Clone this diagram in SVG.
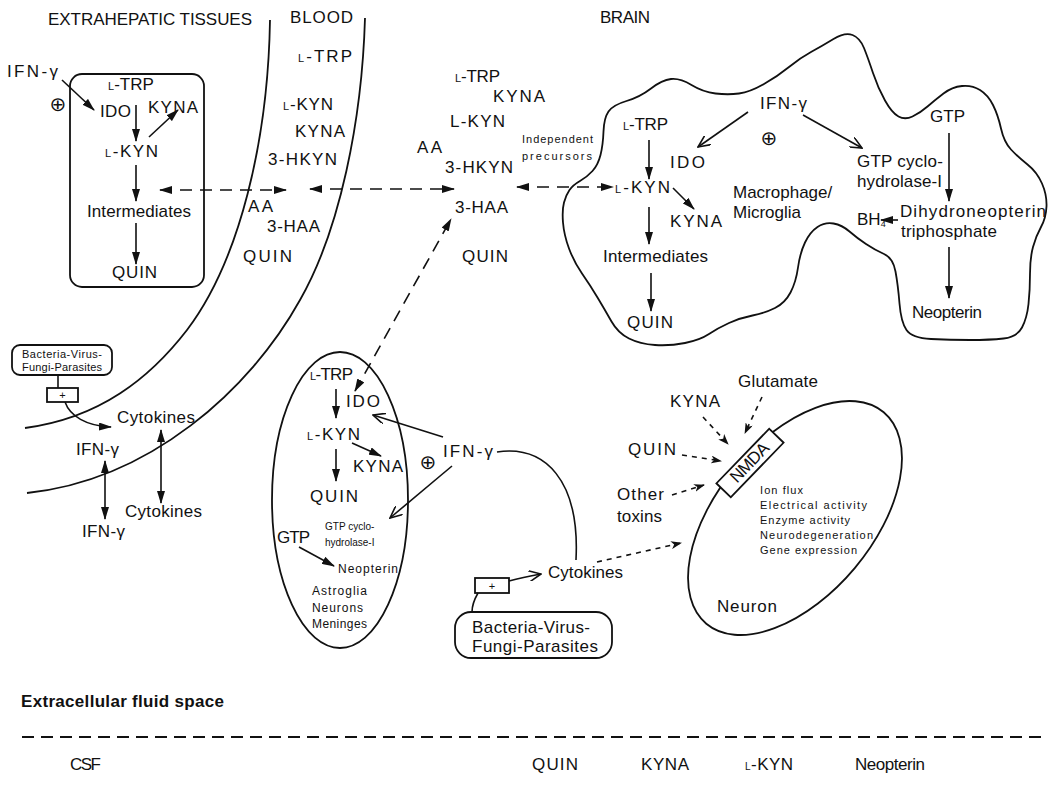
<svg xmlns="http://www.w3.org/2000/svg" width="1051" height="792" viewBox="0 0 1051 792">
<defs>
<style>
text{font-family:"Liberation Sans",Arial,sans-serif;font-size:17px;fill:#111}
.sm{font-size:11px}
.md{font-size:12px}
.xs{font-size:10px}
.b{font-weight:bold}
.sym{font-family:"DejaVu Sans",sans-serif;font-size:20px}
.ln{stroke:#111;stroke-width:1.6;fill:none}
.sh{stroke:#111;stroke-width:1.8;fill:none}
.da{stroke-dasharray:12 8}
.do{stroke-dasharray:5 5}
.fa{marker-end:url(#fa)}
.fa2{marker-start:url(#fa);marker-end:url(#fa)}
.oa{marker-end:url(#oa)}
.sa{marker-end:url(#sa)}
</style>
<marker id="fa" viewBox="0 0 13 8" refX="12" refY="4" markerWidth="13" markerHeight="8" markerUnits="userSpaceOnUse" orient="auto-start-reverse"><path d="M0,0 L13,4 L0,8 z" fill="#111"/></marker>
<marker id="oa" viewBox="0 0 13 11" refX="12" refY="5.5" markerWidth="13" markerHeight="11" markerUnits="userSpaceOnUse" orient="auto"><path d="M0,0 L12,5.5 L0,11" fill="none" stroke="#111" stroke-width="1.6"/></marker>
<marker id="sa" viewBox="0 0 11 8" refX="10" refY="4" markerWidth="11" markerHeight="8" markerUnits="userSpaceOnUse" orient="auto"><path d="M0,0 L11,4 L0,8 L3,4 z" fill="#111"/></marker>
</defs>
<rect width="1051" height="792" fill="#fff"/>

<!-- compartment boundaries -->
<g id="boundaries">
<path class="sh" d="M270,20 C268,140 240,260 187,330 C150,378 100,418 25,428"/>
<path class="sh" d="M365,18 C362,120 340,230 300,300 C250,390 150,480 27,493"/>
</g>

<!-- headers -->
<g id="headers">
<text x="48" y="25" textLength="204" lengthAdjust="spacing">EXTRAHEPATIC TISSUES</text>
<text x="290" y="23" textLength="63" lengthAdjust="spacing">BLOOD</text>
<text x="600" y="23" textLength="50" lengthAdjust="spacing">BRAIN</text>
</g>

<!-- extrahepatic box -->
<g id="extrahepatic">
<rect x="70" y="74" width="134" height="213" rx="12" class="sh"/>
<text x="108" y="90"><tspan font-size="11">L</tspan>-TRP</text>
<text x="100" y="117" textLength="31" lengthAdjust="spacing">IDO</text>
<text x="148" y="113" textLength="50" lengthAdjust="spacing">KYNA</text>
<text x="105" y="157" textLength="53" lengthAdjust="spacing"><tspan font-size="11">L</tspan>-KYN</text>
<text x="87" y="217" textLength="104" lengthAdjust="spacing">Intermediates</text>
<text x="112" y="278" textLength="45" lengthAdjust="spacing">QUIN</text>
</g>
<g id="extra-ifn">
<text x="7" y="77" textLength="51" lengthAdjust="spacing">IFN-γ</text>
<text class="sym" x="58" y="111" text-anchor="middle">⊕</text>
</g>

<!-- blood -->
<g id="blood">
<text x="298" y="62" textLength="54" lengthAdjust="spacing"><tspan font-size="11">L</tspan>-TRP</text>
<text x="283" y="110" textLength="50" lengthAdjust="spacing"><tspan font-size="11">L</tspan>-KYN</text>
<text x="295" y="137" textLength="50" lengthAdjust="spacing">KYNA</text>
<text x="268" y="165" textLength="69" lengthAdjust="spacing">3-HKYN</text>
<text x="248" y="212" textLength="25" lengthAdjust="spacing">AA</text>
<text x="267" y="232" textLength="53" lengthAdjust="spacing">3-HAA</text>
<text x="243" y="262" textLength="49" lengthAdjust="spacing">QUIN</text>
</g>

<!-- brain extracellular -->
<g id="brain-ecf">
<text x="455" y="82" textLength="45" lengthAdjust="spacing"><tspan font-size="11">L</tspan>-TRP</text>
<text x="493" y="102" textLength="52" lengthAdjust="spacing">KYNA</text>
<text x="450" y="127" textLength="55" lengthAdjust="spacing">L-KYN</text>
<text x="417" y="153" textLength="25" lengthAdjust="spacing">AA</text>
<text x="445" y="173" textLength="68" lengthAdjust="spacing">3-HKYN</text>
<text x="455" y="213" textLength="53" lengthAdjust="spacing">3-HAA</text>
<text x="462" y="262" textLength="46" lengthAdjust="spacing">QUIN</text>
<text class="sm" x="522" y="143" textLength="71" lengthAdjust="spacing">Independent</text>
<text class="sm" x="522" y="160" textLength="70" lengthAdjust="spacing">precursors</text>
</g>

<!-- macrophage / microglia -->
<g id="macrophage">
<path class="sh" d="M569.5,190 Q573,185 580,181 Q587,177 592.5,171 Q598,165 600.5,155 Q603,145 603.5,131.5 Q604,118 608.5,111.5 Q613,105 626.5,101 Q640,97 651,88.5 Q662,80 671,79 Q680,78 691.5,85 Q703,92 715.5,93.5 Q728,95 739,93.5 Q750,92 764,84 Q778,76 789,67 Q800,58 811,52 Q822,46 833.5,39 Q845,32 852.5,35 Q860,38 864,48 Q868,58 873,73 Q878,88 885,100.5 Q892,113 898.5,116.5 Q905,120 912.5,116.5 Q920,113 927.5,106.5 Q935,100 943.5,93.5 Q952,87 962,86 Q972,85 980,90 Q988,95 993,105 Q998,115 1001,128.5 Q1004,142 1011,149.5 Q1018,157 1027.5,164.5 Q1037,172 1042,183.5 Q1047,195 1046.5,206.5 Q1046,218 1041,227 Q1036,236 1033,247 Q1030,258 1030,274 Q1030,290 1028.5,304 Q1027,318 1022,327.5 Q1017,337 1003.5,338.5 Q990,340 970,340 Q950,340 931,339 Q912,338 906.5,330 Q901,322 899.5,303.5 Q898,285 895.5,271.5 Q893,258 884,254 Q875,250 866,244 Q857,238 849.5,231.5 Q842,225 833.5,223.5 Q825,222 817.5,227 Q810,232 805,242.5 Q800,253 798,267.5 Q796,282 790.5,292.5 Q785,303 775,308 Q765,313 752.5,315.5 Q740,318 729,323 Q718,328 709,334 Q700,340 685,343 Q670,346 655,345 Q640,344 629,338.5 Q618,333 611.5,321.5 Q605,310 597.5,297.5 Q590,285 582,273.5 Q574,262 569,248.5 Q564,235 563,222.5 Q562,210 564,202.5 Q566,195 569.5,190 Z"/>
<text x="623" y="130" textLength="45" lengthAdjust="spacing"><tspan font-size="11">L</tspan>-TRP</text>
<text x="670" y="168" textLength="35" lengthAdjust="spacing">IDO</text>
<text x="760" y="109" textLength="47" lengthAdjust="spacing">IFN-γ</text>
<text class="sym" x="769" y="145" text-anchor="middle">⊕</text>
<text x="615" y="193" textLength="55" lengthAdjust="spacing"><tspan font-size="11">L</tspan>-KYN</text>
<text x="670" y="227" textLength="52" lengthAdjust="spacing">KYNA</text>
<text x="603" y="262" textLength="105" lengthAdjust="spacing">Intermediates</text>
<text x="627" y="328" textLength="46" lengthAdjust="spacing">QUIN</text>
<text x="733" y="198" font-size="14.5">Macrophage/</text>
<text x="733" y="218" font-size="14.5">Microglia</text>
<text x="930" y="122" textLength="35" lengthAdjust="spacing">GTP</text>
<text x="857" y="167" textLength="86" lengthAdjust="spacing">GTP cyclo-</text>
<text x="857" y="187" textLength="85" lengthAdjust="spacing">hydrolase-I</text>
<text x="900" y="217" textLength="146" lengthAdjust="spacing">Dihydroneopterin</text>
<text x="901" y="237" textLength="96" lengthAdjust="spacing">triphosphate</text>
<text x="857" y="225" font-size="16">BH<tspan font-size="9" dy="2">4</tspan></text>
<text x="912" y="318" textLength="70" lengthAdjust="spacing">Neopterin</text>
</g>

<!-- peripheral infection -->
<g id="infection-periphery">
<rect x="12" y="345" width="100" height="30" rx="8" class="sh"/>
<text class="sm" x="62" y="358" text-anchor="middle" textLength="80" lengthAdjust="spacing">Bacteria-Virus-</text>
<text class="sm" x="62" y="371" text-anchor="middle" textLength="80" lengthAdjust="spacing">Fungi-Parasites</text>
<rect x="47" y="388" width="31" height="14" class="sh" stroke-width="1.5"/>
<text class="sm" x="62.5" y="399" text-anchor="middle">+</text>
</g>
<g id="periph-cytokines">
<text x="117" y="423" textLength="78" lengthAdjust="spacing">Cytokines</text>
<text x="76" y="455" textLength="43" lengthAdjust="spacing">IFN-γ</text>
<text x="82" y="537" textLength="43" lengthAdjust="spacing">IFN-γ</text>
<text x="125" y="517" textLength="77" lengthAdjust="spacing">Cytokines</text>
</g>

<!-- astroglia ellipse -->
<g id="astroglia">
<ellipse cx="340" cy="500" rx="68" ry="148" class="sh"/>
<text x="310" y="380" textLength="43" lengthAdjust="spacing"><tspan font-size="11">L</tspan>-TRP</text>
<text x="346" y="407" textLength="34" lengthAdjust="spacing">IDO</text>
<text x="307" y="440" textLength="53" lengthAdjust="spacing"><tspan font-size="11">L</tspan>-KYN</text>
<text x="353" y="472" textLength="50" lengthAdjust="spacing">KYNA</text>
<text x="310" y="502" textLength="48" lengthAdjust="spacing">QUIN</text>
<text class="xs" x="325" y="530">GTP cyclo-</text>
<text class="xs" x="325" y="546">hydrolase-I</text>
<text x="277" y="543" textLength="33" lengthAdjust="spacing">GTP</text>
<text class="md" x="338" y="573" textLength="60" lengthAdjust="spacing">Neopterin</text>
<text class="md" x="312" y="595" textLength="55" lengthAdjust="spacing">Astroglia</text>
<text class="md" x="312" y="612" textLength="51" lengthAdjust="spacing">Neurons</text>
<text class="md" x="312" y="628" textLength="55" lengthAdjust="spacing">Meninges</text>
</g>
<g id="brain-ifn">
<text x="443" y="457" textLength="50" lengthAdjust="spacing">IFN-γ</text>
<text class="sym" x="428" y="469" text-anchor="middle">⊕</text>
</g>

<!-- brain infection -->
<g id="infection-brain">
<text x="548" y="578" textLength="75" lengthAdjust="spacing">Cytokines</text>
<rect x="475" y="578" width="34" height="15" class="sh" stroke-width="1.5"/>
<text class="sm" x="492" y="590" text-anchor="middle">+</text>
<rect x="455" y="612" width="157" height="46" rx="16" class="sh"/>
<text x="472" y="633" textLength="118" lengthAdjust="spacing">Bacteria-Virus-</text>
<text x="472" y="652" textLength="126" lengthAdjust="spacing">Fungi-Parasites</text>
</g>

<!-- neuron -->
<g id="neuron">
<ellipse cx="795" cy="518" rx="138" ry="78" transform="rotate(-50 795 518)" class="sh"/>
<g transform="translate(750 463) rotate(-46)">
<rect x="-38" y="-10" width="76" height="20" fill="#fff" stroke="#111" stroke-width="1.8"/>
<text x="0" y="5" text-anchor="middle" font-size="14" textLength="48" lengthAdjust="spacing">NMDA</text>
</g>
<text class="sm" x="760" y="494" textLength="43" lengthAdjust="spacing">Ion flux</text>
<text class="sm" x="760" y="509" textLength="107" lengthAdjust="spacing">Electrical activity</text>
<text class="sm" x="760" y="524" textLength="90" lengthAdjust="spacing">Enzyme activity</text>
<text class="sm" x="760" y="539" textLength="113" lengthAdjust="spacing">Neurodegeneration</text>
<text class="sm" x="760" y="554" textLength="97" lengthAdjust="spacing">Gene expression</text>
<text x="717" y="612" textLength="60" lengthAdjust="spacing">Neuron</text>
</g>
<g id="neuro-inputs">
<text x="738" y="387" textLength="80" lengthAdjust="spacing">Glutamate</text>
<text x="670" y="407" textLength="50" lengthAdjust="spacing">KYNA</text>
<text x="628" y="455" textLength="48" lengthAdjust="spacing">QUIN</text>
<text x="617" y="500" textLength="47" lengthAdjust="spacing">Other</text>
<text x="617" y="522" textLength="45" lengthAdjust="spacing">toxins</text>
</g>

<!-- CSF -->
<g id="csf">
<text class="b" x="21" y="707" font-size="16" textLength="203" lengthAdjust="spacing">Extracellular fluid space</text>
<line x1="22" y1="737" x2="1048" y2="737" class="sh" stroke-dasharray="12 7"/>
<text x="70" y="770" font-size="15" textLength="31" lengthAdjust="spacing">CSF</text>
<text x="532" y="770" font-size="15" textLength="46" lengthAdjust="spacing">QUIN</text>
<text x="641" y="770" font-size="15" textLength="48" lengthAdjust="spacing">KYNA</text>
<text x="745" y="770" font-size="15" textLength="48" lengthAdjust="spacing"><tspan font-size="10">L</tspan>-KYN</text>
<text x="855" y="770" font-size="15" textLength="70" lengthAdjust="spacing">Neopterin</text>
</g>

<!-- connectors -->
<g id="connectors">
<line class="ln fa" x1="62" y1="80" x2="94" y2="110"/>
<line class="ln fa" x1="136" y1="105" x2="136" y2="141"/>
<line class="ln fa" x1="149" y1="137" x2="178" y2="110"/>
<line class="ln fa" x1="136" y1="165" x2="136" y2="201"/>
<line class="ln fa" x1="136" y1="223" x2="136" y2="264"/>
<line class="ln da fa2" x1="160" y1="190" x2="286" y2="190"/>
<line class="ln da fa2" x1="310" y1="189" x2="454" y2="189"/>
<line class="ln da fa2" x1="517" y1="187" x2="613" y2="187"/>
<line class="ln da fa2" x1="355" y1="391" x2="451" y2="219"/>
<line class="ln oa" x1="748" y1="112" x2="698" y2="147"/>
<line class="ln oa" x1="803" y1="115" x2="862" y2="148"/>
<line class="ln fa" x1="649" y1="140" x2="649" y2="179"/>
<line class="ln fa" x1="673" y1="188" x2="694" y2="209"/>
<line class="ln fa" x1="649" y1="207" x2="649" y2="244"/>
<line class="ln fa" x1="651" y1="273" x2="651" y2="311"/>
<line class="ln fa" x1="949" y1="133" x2="949" y2="201"/>
<line class="ln fa" x1="898" y1="220" x2="881" y2="220"/>
<line class="ln fa" x1="949" y1="247" x2="949" y2="298"/>
<line class="ln" x1="58" y1="375" x2="58" y2="388"/>
<path class="ln fa" d="M65,402 C70,416 86,426 111,427"/>
<line class="ln fa2" x1="105" y1="461" x2="105" y2="519"/>
<line class="ln fa2" x1="161" y1="430" x2="161" y2="503"/>
<line class="ln fa" x1="336" y1="389" x2="336" y2="418"/>
<line class="ln fa" x1="352" y1="443" x2="381" y2="456"/>
<line class="ln fa" x1="336" y1="449" x2="336" y2="481"/>
<line class="ln fa" x1="299" y1="547" x2="334" y2="566"/>
<line class="ln oa" x1="443" y1="437" x2="373" y2="415"/>
<line class="ln oa" x1="452" y1="466" x2="390" y2="518"/>
<path class="ln" d="M497,452 C545,445 580,480 576,560"/>
<path class="ln oa" d="M509,581 C520,578 530,576 541,574"/>
<path class="ln" d="M478,593 C474,600 472,605 472,612"/>
<line class="ln do sa" x1="703" y1="417" x2="728" y2="444"/>
<line class="ln do sa" x1="762" y1="397" x2="745" y2="433"/>
<line class="ln do sa" x1="682" y1="455" x2="721" y2="461"/>
<line class="ln do sa" x1="672" y1="495" x2="704" y2="485"/>
<line class="ln do sa" x1="597" y1="562" x2="681" y2="543"/>
</g>
</svg>
